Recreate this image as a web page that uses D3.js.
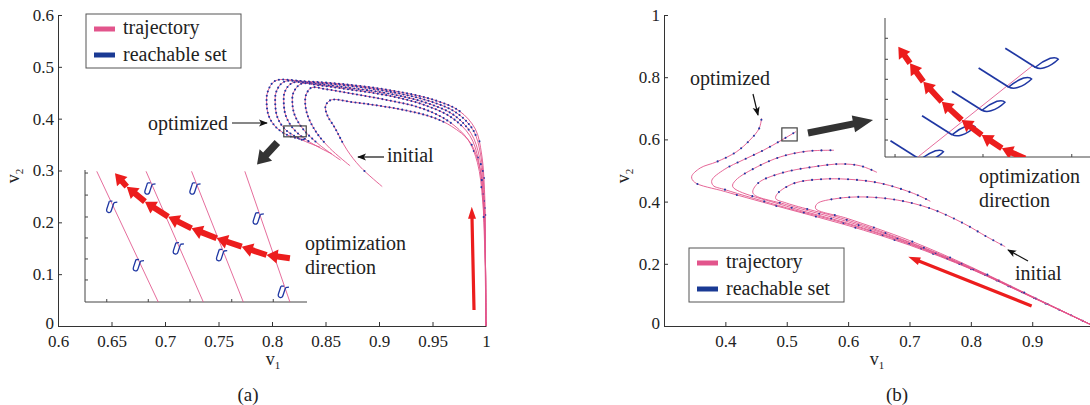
<!DOCTYPE html>
<html><head><meta charset="utf-8">
<script src="https://cdn.jsdelivr.net/npm/d3@7"></script>
<style>
body{margin:0;background:#fff}
svg{display:block}
svg text{font-family:"Liberation Serif","DejaVu Serif","Times New Roman",serif;fill:#222}
</style></head>
<body><svg id="c" width="1090" height="405"></svg>
<script>
// ---------------- data ----------------
const aXTicks=[0.6,0.65,0.7,0.75,0.8,0.85,0.9,0.95,1];
const aYTicks=[0,0.1,0.2,0.3,0.4,0.5,0.6];
const bXTicks=[0.4,0.5,0.6,0.7,0.8,0.9];
const bYTicks=[0,0.2,0.4,0.6,0.8,1];
const legendLabels=["trajectory","reachable set"];

// panel (a) trajectories, optimized -> initial
const aTraj1=[[1,0],[0.9995,0.12],[0.999,0.24],[0.996,0.33],[0.99,0.38],[0.975,0.415],[0.95,0.437],[0.91,0.455],[0.87,0.466],[0.83,0.472],[0.803,0.473],[0.796,0.452],[0.795,0.43],[0.797,0.405],[0.804,0.383],[0.816,0.367],[0.831,0.359]];
const aTraj2=[[1,0],[0.9995,0.12],[0.9985,0.24],[0.995,0.33],[0.988,0.378],[0.972,0.412],[0.947,0.434],[0.91,0.452],[0.87,0.464],[0.835,0.47],[0.811,0.471],[0.804,0.452],[0.803,0.43],[0.805,0.403],[0.812,0.38],[0.826,0.361],[0.845,0.345]];
const aTraj3=[[1,0],[0.9995,0.12],[0.998,0.24],[0.994,0.325],[0.986,0.372],[0.97,0.407],[0.945,0.43],[0.91,0.448],[0.87,0.46],[0.84,0.467],[0.819,0.469],[0.812,0.452],[0.811,0.432],[0.813,0.405],[0.821,0.378],[0.836,0.354],[0.856,0.332]];
const aTraj4=[[1,0],[0.9995,0.12],[0.9975,0.24],[0.993,0.32],[0.985,0.367],[0.968,0.402],[0.943,0.426],[0.91,0.444],[0.87,0.457],[0.845,0.464],[0.827,0.467],[0.82,0.45],[0.819,0.433],[0.821,0.408],[0.829,0.38],[0.844,0.35],[0.864,0.32]];
const aTraj5=[[1,0],[0.9995,0.12],[0.997,0.24],[0.992,0.315],[0.983,0.36],[0.965,0.395],[0.94,0.42],[0.905,0.437],[0.87,0.45],[0.85,0.457],[0.837,0.46],[0.832,0.447],[0.831,0.432],[0.833,0.408],[0.841,0.375],[0.854,0.343],[0.873,0.309]];
const aTraj6=[[1,0],[0.9993,0.1],[0.998,0.2],[0.9947,0.3],[0.985,0.355],[0.968,0.385],[0.951,0.402],[0.925,0.416],[0.9,0.425],[0.875,0.432],[0.855,0.436],[0.85,0.424],[0.852,0.405],[0.858,0.385],[0.87,0.34],[0.8825,0.307],[0.903,0.269]];

// panel (b) trajectories, optimized -> initial
const bTraj1=[[1,0],[0.9,0.092],[0.8,0.183],[0.7,0.26],[0.6,0.323],[0.5,0.377],[0.4,0.432],[0.35,0.462],[0.345,0.48],[0.359,0.508],[0.386,0.528],[0.418,0.56],[0.44,0.598],[0.455,0.635],[0.459,0.668]];
const bTraj2=[[1,0],[0.9,0.093],[0.8,0.184],[0.7,0.263],[0.6,0.327],[0.5,0.38],[0.4,0.438],[0.38,0.452],[0.378,0.469],[0.398,0.503],[0.43,0.535],[0.462,0.565],[0.492,0.598],[0.515,0.625]];
const bTraj3=[[1,0],[0.9,0.093],[0.8,0.185],[0.7,0.265],[0.6,0.33],[0.5,0.385],[0.412,0.448],[0.417,0.469],[0.452,0.512],[0.49,0.544],[0.533,0.562],[0.577,0.565]];
const bTraj4=[[1,0],[0.9,0.094],[0.8,0.186],[0.7,0.268],[0.6,0.335],[0.5,0.39],[0.445,0.427],[0.453,0.459],[0.49,0.491],[0.544,0.512],[0.588,0.521],[0.62,0.515],[0.647,0.494]];
const bTraj5=[[1,0],[0.9,0.094],[0.8,0.188],[0.7,0.27],[0.6,0.34],[0.5,0.395],[0.482,0.41],[0.485,0.426],[0.512,0.459],[0.556,0.472],[0.599,0.472],[0.653,0.459],[0.707,0.426],[0.734,0.401]];
const bTraj6=[[1,0],[0.9,0.095],[0.8,0.19],[0.7,0.275],[0.6,0.345],[0.547,0.378],[0.55,0.394],[0.582,0.41],[0.626,0.415],[0.68,0.405],[0.734,0.378],[0.788,0.33],[0.826,0.287],[0.856,0.255]];

// zoom boxes and direction arrows (data coords)
const aZoomBox=[[0.811,0.365],[0.832,0.386]];
const bZoomBox=[[0.492,0.595],[0.517,0.637]];
const aBigArrow=[[0.805,0.354],[0.786,0.3115]];
const bBigArrow=[[0.5346,0.6206],[0.6406,0.6624]];
const aRedArrow=[[0.9888,0.031],[0.9867,0.23]];
const bRedArrow=[[0.899,0.0643],[0.698,0.2228]];

// inset (a): unit coordinates
const insetAXTicks=[0.098,0.285,0.473,0.661,0.848];
const insetAYTicks=[0.167,0.326,0.485,0.644,0.81,0.977];
const insetALines=[[0.053,0.33],[0.275,0.533],[0.48,0.713],[0.72,0.923]];
const insetASets=[[0.113,0.722],[0.233,0.28],[0.285,0.861],[0.413,0.407],[0.488,0.861],[0.608,0.356],[0.773,0.634],[0.886,0.078]];
const insetADir=[[0.135,0.975],[0.188,0.874],[0.27,0.76],[0.375,0.646],[0.48,0.558],[0.593,0.483],[0.706,0.419],[0.818,0.356],[0.923,0.331]];

// inset (b): unit coordinates
const insetBXTicks=[0.049,0.478,0.911];
const insetBYTicks=[0.122,0.271,0.415,0.559,0.703,0.854];
const insetBLine=[[0.162,0.002],[0.724,0.662]];
const insetBSets=[[0.212,0.002],[0.366,0.182],[0.512,0.358],[0.642,0.525],[0.772,0.667]];
const insetBDir=[[0.065,0.794],[0.122,0.674],[0.187,0.542],[0.277,0.398],[0.374,0.266],[0.472,0.158],[0.57,0.063],[0.683,-0.01]];

// ---------------- drawing ----------------
const FONT="Liberation Serif, DejaVu Serif, serif";
const PINK="#e2558c", BLUE="#1f37a3", RED="#ec1d1d", DARK="#333";
const svg=d3.select("#c");
const defs=svg.append("defs");
defs.append("marker").attr("id","ah").attr("viewBox","0 -5 10 10").attr("refX",9).attr("refY",0)
  .attr("markerWidth",9).attr("markerHeight",9).attr("markerUnits","userSpaceOnUse").attr("orient","auto")
  .append("path").attr("d","M0,-4L10,0L0,4L2.5,0Z").attr("fill","#111");

const fmt=d=>String(+d.toFixed(2));

const aX=d3.scaleLinear([0.6,1],[58,486]), aY=d3.scaleLinear([0,0.6],[326,15]);
const bX=d3.scaleLinear([0.3,1],[664,1093.6]), bY=d3.scaleLinear([0,1],[326,15]);

function axes(x,y,xt,yt){
  const gx=svg.append("g").attr("transform",`translate(0,${y.range()[0]})`)
    .call(d3.axisBottom(x).tickValues(xt).tickFormat(fmt).tickSizeInner(-4).tickSizeOuter(0).tickPadding(9));
  const gy=svg.append("g").attr("transform",`translate(${x.range()[0]},0)`)
    .call(d3.axisLeft(y).tickValues(yt).tickFormat(fmt).tickSizeInner(-4).tickSizeOuter(0).tickPadding(4));
  [gx,gy].forEach(g=>{g.attr("font-family",FONT).attr("font-size",17);
    g.selectAll("path,line").attr("stroke",DARK);
    g.selectAll("text").attr("fill","#222");});
  gy.selectAll(".tick text").filter(d=>d===0).attr("dy","0.15em");
}
axes(aX,aY,aXTicks,aYTicks);
axes(bX,bY,bXTicks,bYTicks);

function trajectories(x,y,list,dotFn){
  const line=d3.line().x(d=>x(d[0])).y(d=>y(d[1])).curve(d3.curveCatmullRom.alpha(0.5));
  const g=svg.append("g");
  list.forEach((tr,i)=>{
    const p=g.append("path").attr("d",line(tr)).attr("fill","none").attr("stroke",PINK).attr("stroke-width",1).attr("opacity",0.9);
    const node=p.node(), L=node.getTotalLength();
    const apexIdx=d3.minIndex(tr,d=>d[0]);
    const tmp=g.append("path").attr("d",line(tr.slice(0,apexIdx+1)));
    const Lt=tmp.node().getTotalLength(); tmp.remove();
    const pts=dotFn(node,L,Lt,i);
    g.selectAll(null).data(pts).join("circle").attr("cx",q=>q.x).attr("cy",q=>q.y).attr("r",1.05).attr("fill",BLUE);
  });
}
trajectories(aX,aY,[aTraj1,aTraj2,aTraj3,aTraj4,aTraj5,aTraj6],(node,L,Lt,i)=>{
  const out=[];let l=7*i;
  while(l<L){const q=node.getPointAtLength(l);if(q.y<aY(0.2))out.push(q);l+= q.y>aY(0.36)?37:4.3;}
  return out;
});
trajectories(bX,bY,[bTraj1,bTraj2,bTraj3,bTraj4,bTraj5,bTraj6],(node,L,Lt,i)=>{
  const out=[];let l=12+13*i;
  while(l<L){out.push(node.getPointAtLength(l)); l+= l<Lt-4?41:9;}
  return out;
});

// zoom boxes
[[aZoomBox,aX,aY],[bZoomBox,bX,bY]].forEach(([b,x,y])=>{
  svg.append("rect").attr("x",x(b[0][0])).attr("y",y(b[1][1])).attr("width",x(b[1][0])-x(b[0][0])).attr("height",y(b[0][1])-y(b[1][1]))
    .attr("fill","none").attr("stroke","#444").attr("stroke-width",1.2);
});

function blockArrow(x1,y1,x2,y2,sw,hw,hl){
  const dx=x2-x1,dy=y2-y1,L=Math.hypot(dx,dy),ux=dx/L,uy=dy/L,px=-uy,py=ux;
  const bx=x2-ux*hl,by=y2-uy*hl;
  const P=[[x1+px*sw/2,y1+py*sw/2],[bx+px*sw/2,by+py*sw/2],[bx+px*hw/2,by+py*hw/2],[x2,y2],
           [bx-px*hw/2,by-py*hw/2],[bx-px*sw/2,by-py*sw/2],[x1-px*sw/2,y1-py*sw/2]];
  return "M"+P.map(p=>p.join(",")).join("L")+"Z";
}
// big black arrows
svg.append("path").attr("d",blockArrow(aX(aBigArrow[0][0]),aY(aBigArrow[0][1]),aX(aBigArrow[1][0]),aY(aBigArrow[1][1]),7.5,17,13)).attr("fill","#333");
svg.append("path").attr("d",blockArrow(bX(bBigArrow[0][0]),bY(bBigArrow[0][1]),bX(bBigArrow[1][0]),bY(bBigArrow[1][1]),7,17,20)).attr("fill","#333");
// red arrows in main plots
svg.append("path").attr("d",blockArrow(aX(aRedArrow[0][0]),aY(aRedArrow[0][1]),aX(aRedArrow[1][0]),aY(aRedArrow[1][1]),3.2,8,12)).attr("fill",RED);
svg.append("path").attr("d",blockArrow(bX(bRedArrow[0][0]),bY(bRedArrow[0][1]),bX(bRedArrow[1][0]),bY(bRedArrow[1][1]),3.2,8,12)).attr("fill",RED);

// ---------- inset (a) ----------
const iaX=d3.scaleLinear([0,1],[85,307]), iaY=d3.scaleLinear([0,1],[302,170]);
const ia=svg.append("g");
ia.append("line").attr("x1",iaX(0)).attr("x2",iaX(0)).attr("y1",iaY(0)).attr("y2",iaY(1)).attr("stroke","#444");
ia.append("line").attr("x1",iaX(0)).attr("x2",iaX(1)).attr("y1",iaY(0)).attr("y2",iaY(0)).attr("stroke","#444");
ia.selectAll(null).data(insetAXTicks).join("line").attr("x1",d=>iaX(d)).attr("x2",d=>iaX(d)).attr("y1",iaY(0)).attr("y2",iaY(0)-3).attr("stroke","#444");
ia.selectAll(null).data(insetAYTicks).join("line").attr("y1",d=>iaY(d)).attr("y2",d=>iaY(d)).attr("x1",iaX(0)).attr("x2",iaX(0)+3).attr("stroke","#444");
ia.selectAll(null).data(insetALines).join("line").attr("x1",d=>iaX(d[0])).attr("y1",iaY(0.99)).attr("x2",d=>iaX(d[1])).attr("y2",iaY(0))
  .attr("stroke",PINK).attr("stroke-width",1).attr("opacity",0.85);
ia.selectAll(null).data(insetASets).join("g").attr("transform",d=>`translate(${iaX(d[0])},${iaY(d[1])}) rotate(18)`)
  .each(function(){
    const g=d3.select(this);
    g.append("path").attr("d","M-2.4,-5 L-2.4,3 Q-2.4,6 0,6 Q2.4,6 2.4,3 L2.4,-5").attr("fill","none").attr("stroke",BLUE).attr("stroke-width",1.3);
    g.append("path").attr("d","M2.4,-5 L5.5,-6.5 M-2.4,-5 L0.5,-6").attr("fill","none").attr("stroke",BLUE).attr("stroke-width",1.3);
  });
for(let i=0;i<insetADir.length-1;i++){
  const h=insetADir[i], t=insetADir[i+1];
  ia.append("path").attr("d",blockArrow(iaX(t[0]),iaY(t[1]),iaX(h[0]),iaY(h[1]),6,14,11)).attr("fill",RED);
}

// ---------- inset (b) ----------
const ibX=d3.scaleLinear([0,1],[885,1090]), ibY=d3.scaleLinear([0,1],[157,18]);
defs.append("clipPath").attr("id","clipB").append("rect").attr("x",885).attr("y",10).attr("width",205).attr("height",147);
const ib=svg.append("g");
ib.append("line").attr("x1",ibX(0)).attr("x2",ibX(0)).attr("y1",ibY(0)).attr("y2",ibY(1)).attr("stroke","#444");
ib.append("line").attr("x1",ibX(0)).attr("x2",ibX(1)).attr("y1",ibY(0)).attr("y2",ibY(0)).attr("stroke","#444");
ib.selectAll(null).data(insetBXTicks).join("line").attr("x1",d=>ibX(d)).attr("x2",d=>ibX(d)).attr("y1",ibY(0)).attr("y2",ibY(0)-3).attr("stroke","#444");
ib.selectAll(null).data(insetBYTicks).join("line").attr("y1",d=>ibY(d)).attr("y2",d=>ibY(d)).attr("x1",ibX(0)).attr("x2",ibX(0)+3).attr("stroke","#444");
const ibc=ib.append("g").attr("clip-path","url(#clipB)");
ibc.append("line").attr("x1",ibX(insetBLine[0][0])).attr("y1",ibY(insetBLine[0][1])).attr("x2",ibX(insetBLine[1][0])).attr("y2",ibY(insetBLine[1][1]))
  .attr("stroke",PINK).attr("stroke-width",1).attr("opacity",0.85);
ibc.selectAll(null).data(insetBSets).join("g").attr("transform",d=>`translate(${ibX(d[0])},${ibY(d[1])})`)
  .each(function(){
    const g=d3.select(this);
    g.append("line").attr("x1",-38).attr("y1",-16).attr("x2",-8).attr("y2",3).attr("stroke",BLUE).attr("stroke-width",1.7);
    g.append("path").attr("d","M-9,3 Q-2,-3 6,-6 Q12,-7.5 14,-5 Q8,1 0,3.5 Q-5,5 -9,3Z").attr("transform","translate(1,0)")
      .attr("fill","none").attr("stroke",BLUE).attr("stroke-width",1.5);
  });
for(let i=0;i<insetBDir.length-1;i++){
  const h=insetBDir[i], t=insetBDir[i+1];
  ibc.append("path").attr("d",blockArrow(ibX(t[0]),ibY(t[1]),ibX(h[0]),ibY(h[1]),6,14,11)).attr("fill",RED);
}

// ---------- legends ----------
function legend(x0,y0){
  const g=svg.append("g").attr("transform",`translate(${x0},${y0})`);
  g.append("rect").attr("width",155).attr("height",54).attr("fill","#fff").attr("stroke","#555").attr("stroke-width",1);
  [PINK,"#1a3a94"].forEach((c,i)=>{
    g.append("line").attr("x1",8).attr("x2",29).attr("y1",15+26*i).attr("y2",15+26*i).attr("stroke",c).attr("stroke-width",5);
    g.append("text").attr("x",37).attr("y",20+27*i).attr("font-family",FONT).attr("font-size",20).text(legendLabels[i]);
  });
}
legend(86,14);
legend(689,248);

// ---------- annotations ----------
function txt(x,y,s,anchor,size){svg.append("text").attr("x",x).attr("y",y).attr("text-anchor",anchor||"start").attr("font-family",FONT).attr("font-size",size||20).text(s);}
function thinArrow(x1,y1,x2,y2){svg.append("line").attr("x1",x1).attr("y1",y1).attr("x2",x2).attr("y2",y2).attr("stroke","#111").attr("stroke-width",1.2).attr("marker-end","url(#ah)");}
txt(228,130,"optimized","end"); thinArrow(232,123,267,123);
txt(387,162,"initial"); thinArrow(384,157,358,157);
txt(305,250,"optimization"); txt(305,274,"direction");
txt(690,85,"optimized"); thinArrow(753,94,758,115);
txt(979,183,"optimization"); txt(979,207,"direction");
txt(1015,280,"initial"); thinArrow(1028,261,1008,250);

// axis labels
function vlabel(x,y,sub,rot){
  const t=svg.append("text").attr("text-anchor","middle").attr("font-family",FONT).attr("font-size",18)
    .attr("transform",rot?`translate(${x},${y}) rotate(-90)`:`translate(${x},${y})`);
  t.append("tspan").text("v"); t.append("tspan").attr("dy",4).attr("font-size",11).text(sub);
}
vlabel(273,365,"1"); vlabel(877,365,"1");
vlabel(19,176,"2",true); vlabel(629,176,"2",true);
txt(248,401,"(a)","middle",19); txt(897,401,"(b)","middle",19);
</script></body></html>
